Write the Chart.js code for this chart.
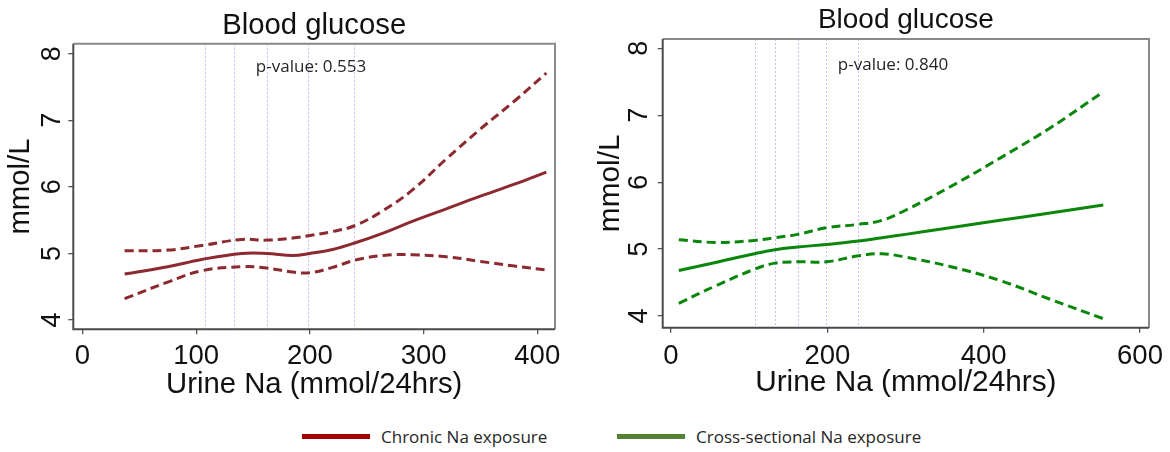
<!DOCTYPE html>
<html>
<head>
<meta charset="utf-8">
<script src="https://cdn.jsdelivr.net/npm/chart.js@4.4.1/dist/chart.umd.min.js"></script>
<style>
  html, body { margin: 0; padding: 0; background: #fff; }
  body { width: 1170px; height: 452px; position: relative; overflow: hidden; }
  .panel { position: absolute; top: 0; width: 585px; height: 405px; }
  #legend { position: absolute; top: 424px; left: 0; width: 1170px; height: 24px;
            font-family: "Open Sans", sans-serif; font-size: 17px; color: #262626; }
  .item { position: absolute; top: 0; height: 24px; display: flex; align-items: center; white-space: nowrap; }
  .swatch { display: inline-block; width: 68px; height: 5px; margin-right: 11px; }
</style>
</head>
<body>
<div class="panel" style="left:0"><canvas id="chronicChart" width="585" height="405"></canvas></div>
<div class="panel" style="left:585px"><canvas id="crossChart" width="585" height="405"></canvas></div>
<div id="legend"></div>

<script>
// ======================================================
// Data
// ======================================================
const knots = [108, 133, 162, 198, 239];   // spline knot positions, both panels

// Chronic Na exposure (left)
const chronicX     = [37, 75, 105, 140, 162, 185, 200, 220, 240, 265, 290, 320, 350, 380, 408];
const chronicFit   = [4.69, 4.80, 4.91, 5.00, 5.00, 4.97, 5.00, 5.06, 5.16, 5.31, 5.48, 5.67, 5.86, 6.04, 6.22];
const chronicUpper = [5.04, 5.05, 5.12, 5.21, 5.20, 5.23, 5.27, 5.33, 5.42, 5.65, 5.95, 6.42, 6.87, 7.29, 7.71];
const chronicLower = [4.32, 4.57, 4.74, 4.80, 4.78, 4.72, 4.71, 4.79, 4.90, 4.97, 4.98, 4.95, 4.88, 4.81, 4.75];

// Cross-sectional Na exposure (right)
const crossX     = [10, 57, 107, 133, 162, 199, 240, 270, 300, 357, 421, 485, 553];
const crossFit   = [4.68, 4.80, 4.93, 4.99, 5.03, 5.07, 5.12, 5.17, 5.22, 5.32, 5.43, 5.54, 5.66];
const crossUpper = [5.14, 5.10, 5.13, 5.17, 5.22, 5.32, 5.37, 5.43, 5.58, 5.93, 6.36, 6.81, 7.35];
const crossLower = [4.19, 4.45, 4.70, 4.79, 4.81, 4.81, 4.90, 4.93, 4.88, 4.74, 4.53, 4.25, 3.96];

const yTicks   = [4, 5, 6, 7, 8];
const xTicksL  = [0, 100, 200, 300, 400];
const xTicksR  = [0, 200, 400, 600];
const pValues  = ["p-value: 0.553", "p-value: 0.840"];
const legendLabels = ["Chronic Na exposure", "Cross-sectional Na exposure"];
const legendColors = ["#a00000", "#548235"];

Chart.defaults.font.family = "'Liberation Sans', Arial, sans-serif";
Chart.defaults.color = "#111";

const pts = (xs, ys) => xs.map((x, i) => ({ x, y: ys[i] }));

// ======================================================
// Plugins
// ======================================================
const knotPlugin = {
  id: "knotLines",
  beforeDatasetsDraw(chart) {
    const { ctx, chartArea: { top, bottom }, scales: { x } } = chart;
    ctx.save();
    ctx.strokeStyle = "rgba(140,140,255,0.55)";
    ctx.lineWidth = 1;
    ctx.setLineDash([2, 2]);
    knots.forEach(k => {
      const px = Math.round(x.getPixelForValue(k)) + 0.5;
      ctx.beginPath();
      ctx.moveTo(px, top);
      ctx.lineTo(px, bottom);
      ctx.stroke();
    });
    ctx.restore();
  }
};

const framePlugin = {
  id: "plotFrame",
  afterDatasetsDraw(chart, args, opts) {
    const { ctx, chartArea: { left, top, right, bottom }, scales: { x, y } } = chart;
    ctx.save();
    ctx.lineWidth = 2;
    ctx.strokeStyle = "#8a8a8a";
    ctx.beginPath();
    ctx.moveTo(left, top); ctx.lineTo(right, top); ctx.lineTo(right, bottom);
    ctx.stroke();
    ctx.strokeStyle = "#4a4a4a";
    ctx.beginPath();
    ctx.moveTo(left, top); ctx.lineTo(left, bottom); ctx.lineTo(right, bottom);
    ctx.stroke();
    // p-value note
    ctx.fillStyle = "#262626";
    ctx.font = "17px 'Open Sans', sans-serif";
    ctx.textAlign = "center";
    ctx.textBaseline = "middle";
    ctx.fillText(opts.text, x.getPixelForValue(opts.x), y.getPixelForValue(opts.y));
    ctx.restore();
  }
};

// ======================================================
// Panels
// ======================================================
function buildPanel(id, p) {
  const ctx = document.getElementById(id).getContext("2d");
  const dash = [9, 5];
  return new Chart(ctx, {
    type: "line",
    plugins: [knotPlugin, framePlugin],
    data: {
      datasets: [
        { data: pts(p.xs, p.upper), borderColor: p.color, borderDash: dash, borderWidth: 3 },
        { data: pts(p.xs, p.lower), borderColor: p.color, borderDash: dash, borderWidth: 3 },
        { data: pts(p.xs, p.fit),   borderColor: p.color, borderWidth: 3 }
      ].map(d => Object.assign(d, { pointRadius: 0, tension: 0.4, fill: false }))
    },
    options: {
      responsive: false,
      animation: false,
      events: [],
      layout: { padding: { left: 0, right: p.padRight, top: 0, bottom: 0 } },
      plugins: {
        legend: { display: false },
        tooltip: { enabled: false },
        title: {
          display: true, text: "Blood glucose", fullSize: false, color: "#111",
          font: { size: p.titleSize, weight: "normal" },
          padding: p.titlePad
        },
        plotFrame: { text: p.pText, x: p.pX, y: p.pY }
      },
      scales: {
        x: {
          type: "linear", min: p.xMin, max: p.xMax,
          afterBuildTicks: s => { s.ticks = p.xTicks.map(v => ({ value: v })); },
          afterFit: s => { s.height = p.xHeight; s.paddingLeft = 0; s.paddingRight = 0; },
          ticks: { font: { size: 27.5 }, padding: p.xTickPad, maxRotation: 0, autoSkip: false, color: "#111" },
          grid: { drawOnChartArea: false, drawTicks: true, tickLength: 5, color: "#555", lineWidth: 1.3 },
          border: { display: false },
          title: { display: true, text: "Urine Na (mmol/24hrs)", font: { size: p.axisTitleSize },
                   padding: { top: 0, bottom: p.xTitlePad }, color: "#111" }
        },
        y: {
          min: p.yMin, max: p.yMax,
          afterBuildTicks: s => { s.ticks = yTicks.map(v => ({ value: v })); },
          afterFit: s => { s.width = p.yWidth; s.paddingTop = 0; s.paddingBottom = 0; },
          ticks: { font: { size: 27 }, minRotation: 90, maxRotation: 90, crossAlign: "center",
                   padding: p.yTickPad, color: "#111" },
          grid: { drawOnChartArea: false, drawTicks: true, tickLength: 5, color: "#555", lineWidth: 1.3 },
          border: { display: false },
          title: { display: true, text: "mmol/L", font: { size: p.axisTitleSize },
                   padding: { top: p.yTitlePad, bottom: 0 }, color: "#111" }
        }
      }
    }
  });
}

buildPanel("chronicChart", {
  xs: chronicX, fit: chronicFit, upper: chronicUpper, lower: chronicLower,
  color: "#8c2a30",
  xMin: -8.1, xMax: 415.6, yMin: 3.86, yMax: 8.15, xTicks: xTicksL,
  padRight: 30, yWidth: 73.3, xHeight: 75.7,
  titleSize: 29.3, titlePad: { top: 8.6, bottom: 0 },
  axisTitleSize: 29.3, xTickPad: 5.7, xTitlePad: 2.9, yTickPad: 8, yTitlePad: 3,
  pText: pValues[0], pX: 201, pY: 7.8
});

buildPanel("crossChart", {
  xs: crossX, fit: crossFit, upper: crossUpper, lower: crossLower,
  color: "#0a870a",
  xMin: -10.6, xMax: 611.5, yMin: 3.825, yMax: 8.14, xTicks: xTicksR,
  padRight: 21, yWidth: 77.7, xHeight: 77.3,
  titleSize: 28, titlePad: { top: 3.5, bottom: 1.9 },
  axisTitleSize: 29.8, xTickPad: 7.5, xTitlePad: 4.1, yTickPad: 10.9, yTitlePad: 7.4,
  pText: pValues[1], pX: 284, pY: 7.75
});

// ======================================================
// Shared legend
// ======================================================
const legend = document.getElementById("legend");
const legendLeft = [302, 617];
legendLabels.forEach((label, i) => {
  const item = document.createElement("div");
  item.className = "item";
  item.style.left = legendLeft[i] + "px";
  const sw = document.createElement("span");
  sw.className = "swatch";
  sw.style.background = legendColors[i];
  item.appendChild(sw);
  item.appendChild(document.createTextNode(label));
  legend.appendChild(item);
});
</script>
</body>
</html>
